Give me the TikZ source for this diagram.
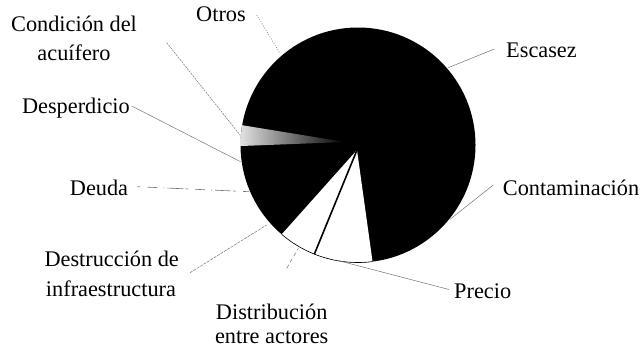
\documentclass[tikz,border=0pt]{standalone}
\usepackage{fontspec}
\setmainfont{Liberation Serif}
\usetikzlibrary{calc}
\begin{document}
\begin{tikzpicture}[x=1pt,y=-1pt,
  lbl/.style={inner sep=0pt, text=black, font=\fontsize{22.3}{26}\selectfont},
  leader/.style={draw=black!55, line width=0.5pt},
  ]
\useasboundingbox (0,0) rectangle (642,354);
\coordinate (c) at (358,145);
\coordinate (apex) at (357,150);
\def\R{117.5}
% pie body
\fill[black] (c) circle[radius=\R];
% hatched slice
\shade[left color=black!12, middle color=black!45, right color=black] (345,142) -- ($(c)+(179.5:\R)$) arc[start angle=179.5,end angle=189.7,radius=\R] -- cycle;
% white slices
\fill[white] (apex) -- ($(c)+(82.9:\R)$) arc[start angle=82.9,end angle=130.5,radius=\R] -- cycle;
\draw[line width=0.6pt] ($(c)+(82.9:\R)$) arc[start angle=82.9,end angle=130.5,radius=\R];
\draw[line width=1.6pt] (apex) -- ($(c)+(111.8:\R)$);
% labels
\node[lbl, anchor=base] (cond1) at (74,31.7) {Condición del};
\node[lbl, anchor=base] (cond2) at (74,60) {acuífero};
\node[lbl, anchor=base] (otros) at (221,21.7) {Otros};
\node[lbl, anchor=base east] (desp) at (130,113.3) {Desperdicio};
\node[lbl, anchor=base east] (deuda) at (128.3,195) {Deuda};
\node[lbl, anchor=base] (dest1) at (111.7,266) {Destrucción de};
\node[lbl, anchor=base] (dest2) at (111,296) {infraestructura};
\node[lbl, anchor=base] (dist1) at (271.7,319.3) {Distribución};
\node[lbl, anchor=base] (dist2) at (271.7,343.3) {entre actores};
\node[lbl, anchor=base west] (esc) at (506,57.3) {Escasez};
\node[lbl, anchor=base west] (cont) at (502.7,195) {Contaminación};
\node[lbl, anchor=base west] (prec) at (454,298.3) {Precio};
% leader end points
\coordinate (otrA) at (256.7,15);    \coordinate (otrB) at (280,53.3);
\coordinate (conA) at (166.7,42.7);  \coordinate (conB) at (240,135);
\coordinate (desA) at (131.7,106);   \coordinate (desB) at (240.5,161.7);
\coordinate (deuA) at (137.3,186.7); \coordinate (deuB) at (249,191.7);
\coordinate (dstA) at (190,272.7);   \coordinate (dstB) at (266.7,225);
\coordinate (disA) at (286.7,268.3); \coordinate (disB) at (298.3,248.3);
\coordinate (preA) at (449,289.5);   \coordinate (preB) at (336,260);
\coordinate (escA) at (494.3,49);    \coordinate (escB) at (448.3,67.7);
\coordinate (ctA) at (493.3,185);    \coordinate (ctB) at (450,219.3);
% leaders
\draw[leader, dash pattern=on 1pt off 1.5pt] (otrA) -- (otrB);
\draw[leader, dash pattern=on 2pt off 1pt] (conA) -- (conB);
\draw[leader] (desA) -- (desB);
\draw[leader, line width=0.6pt, dash pattern=on 3pt off 7pt on 10pt off 6pt on 1pt off 3pt on 16pt off 2pt] (deuA) -- (deuB);
\draw[leader, dash pattern=on 3pt off 1pt] (dstA) -- (dstB);
\draw[leader, dash pattern=on 4pt off 3pt] (disA) -- (disB);
\draw[leader] (preA) -- (preB);
\draw[leader] (escA) -- (escB);
\draw[leader] (ctA) -- (ctB);
\end{tikzpicture}
\end{document}
